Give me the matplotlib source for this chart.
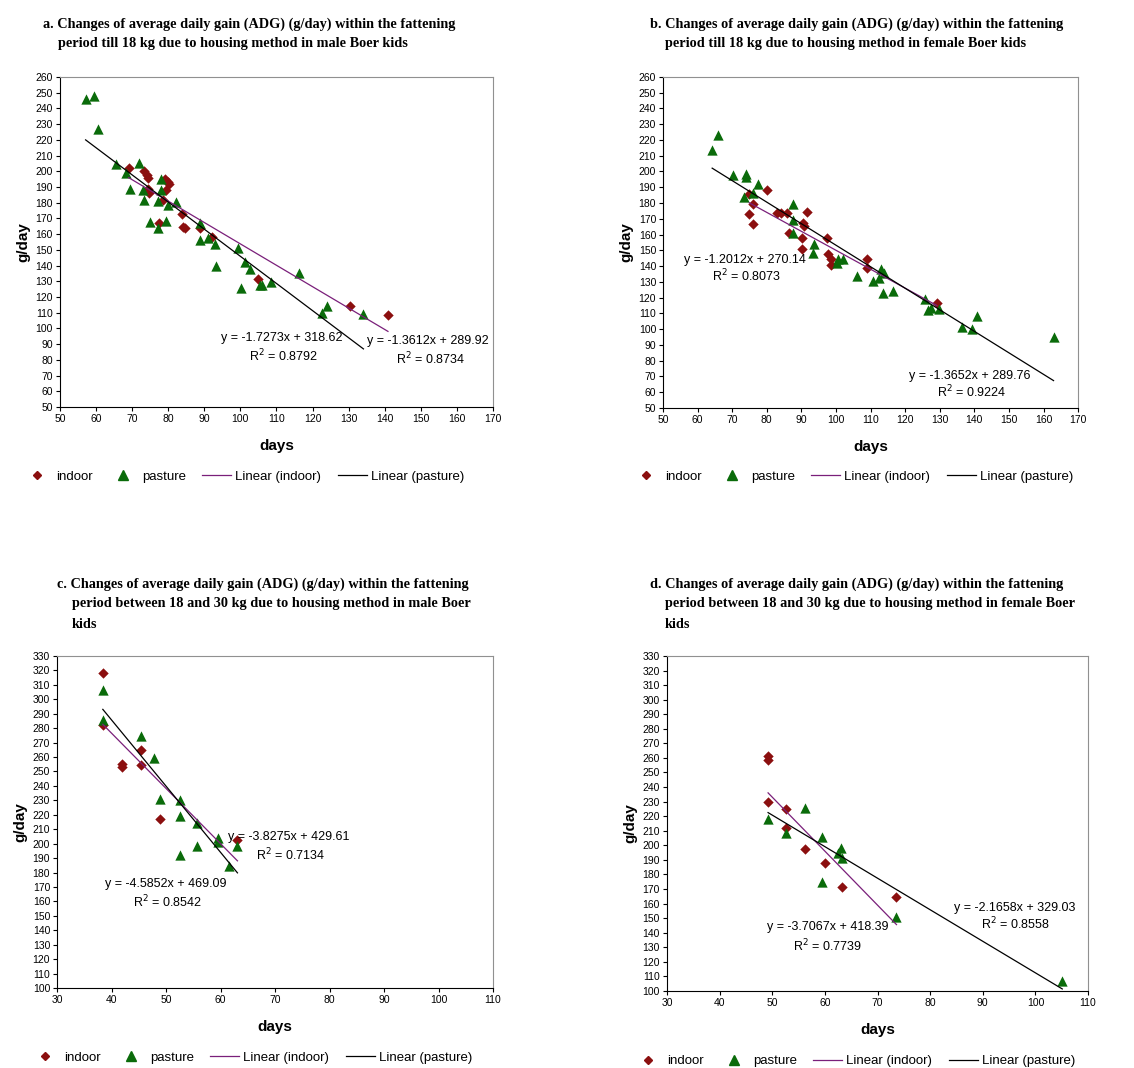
import numpy as np
import matplotlib
matplotlib.use("Agg")
import matplotlib.pyplot as plt
from matplotlib.lines import Line2D

plt.rcParams['font.family'] = ['Liberation Sans', 'DejaVu Sans']

# ---- panel a: male, till 18 kg ----
a_in_x = [69.0, 73.4, 74.0, 74.5, 74.3, 74.8, 77.4, 78.5, 79.1, 79.3, 79.9, 80.3,
          83.9, 84.0, 84.7, 88.8, 92.1, 105.0, 130.5, 140.9]
a_in_y = [202.4, 200.0, 197.5, 196.0, 188.5, 186.5, 167.3, 181.7, 195.4, 188.0, 193.3, 191.8,
          173.0, 164.7, 163.7, 163.7, 158.4, 131.5, 114.0, 108.4]
a_pa_x = [57.1, 59.3, 60.6, 65.4, 68.3, 69.4, 71.9, 73.0, 73.2, 75.0, 77.2, 77.2, 77.9,
          77.9, 79.3, 80.0, 82.1, 88.8, 88.9, 91.1, 93.0, 93.3, 99.4, 100.2, 101.2,
          102.7, 105.5, 105.9, 108.4, 116.2, 122.6, 124.0, 134.1]
a_pa_y = [246.2, 248.0, 227.0, 204.5, 199.0, 189.0, 205.4, 188.0, 181.7, 167.5, 181.0, 163.7, 195.0,
          188.0, 168.5, 178.5, 180.6, 167.3, 156.0, 157.8, 153.7, 139.8, 151.2, 126.0, 142.5,
          138.0, 127.5, 127.5, 129.4, 135.1, 110.0, 114.0, 109.0]

# ---- panel b: female, till 18 kg ----
b_in_x = [80.1, 74.9, 75.9, 74.9, 75.9, 83.0, 84.1, 85.7, 86.4, 91.5, 90.5, 90.8, 90.3,
          90.3, 97.3, 97.8, 98.5, 98.5, 108.9, 108.9, 129.2]
b_in_y = [188.2, 185.5, 179.2, 172.8, 166.7, 173.9, 173.5, 173.9, 161.2, 174.1, 167.6, 165.7, 157.6,
          150.9, 157.6, 147.5, 144.3, 140.8, 144.3, 138.6, 116.5]
b_pa_x = [64.2, 65.8, 70.1, 73.9, 74.1, 73.4, 75.9, 77.5, 87.5, 87.7, 87.7, 93.4, 93.7,
          100.2, 100.5, 101.9, 106.0, 110.6, 112.5, 113.0, 113.9, 113.7, 116.4, 125.8,
          126.5, 127.4, 129.8, 136.5, 139.4, 140.9, 162.9]
b_pa_y = [213.6, 222.9, 197.7, 198.2, 196.7, 183.6, 186.5, 192.0, 179.4, 169.2, 161.2, 148.3, 154.2,
          142.2, 144.4, 144.6, 133.8, 130.6, 132.3, 138.0, 135.5, 123.2, 123.9, 119.0,
          112.3, 113.3, 112.7, 101.3, 100.4, 108.4, 94.9]

# ---- panel c: male, 18-30 kg ----
c_in_x = [38.4, 38.4, 41.9, 41.9, 45.4, 45.4, 48.8, 63.1]
c_in_y = [318.0, 282.0, 255.5, 253.2, 264.7, 254.6, 217.0, 202.4]
c_pa_x = [38.4, 38.4, 45.4, 47.8, 48.8, 52.6, 52.6, 52.6, 55.6, 55.6, 59.6, 59.6, 63.1, 61.6]
c_pa_y = [306.5, 285.7, 274.9, 259.6, 230.7, 230.3, 219.3, 192.0, 214.0, 198.5, 203.6, 201.3,
          198.5, 184.7]

# ---- panel d: female, 18-30 kg ----
d_in_x = [49.2, 49.2, 49.2, 52.6, 52.6, 56.2, 60.0, 63.2, 73.6]
d_in_y = [261.2, 258.9, 229.9, 224.6, 212.0, 197.2, 187.6, 171.1, 164.3]
d_pa_x = [49.2, 52.6, 56.2, 59.5, 59.5, 63.0, 62.5, 63.2, 73.6, 105.1]
d_pa_y = [218.0, 208.6, 225.7, 205.4, 175.0, 197.9, 195.0, 191.0, 151.0, 107.1]

# trendline coefficients (slope, intercept, R2) as printed on the chart
a_in_fit = [-1.3612, 289.92, 0.8734]
a_pa_fit = [-1.7273, 318.62, 0.8792]
b_in_fit = [-1.2012, 270.14, 0.8073]
b_pa_fit = [-1.3652, 289.76, 0.9224]
c_in_fit = [-3.8275, 429.61, 0.7134]
c_pa_fit = [-4.5852, 469.09, 0.8542]
d_in_fit = [-3.7067, 418.39, 0.7739]
d_pa_fit = [-2.1658, 329.03, 0.8558]

titles = [
    ["a. Changes of average daily gain (ADG) (g/day) within the fattening",
     "period till 18 kg due to housing method in male Boer kids"],
    ["b. Changes of average daily gain (ADG) (g/day) within the fattening",
     "period till 18 kg due to housing method in female Boer kids"],
    ["c. Changes of average daily gain (ADG) (g/day) within the fattening",
     "period between 18 and 30 kg due to housing method in male Boer",
     "kids"],
    ["d. Changes of average daily gain (ADG) (g/day) within the fattening",
     "period between 18 and 30 kg due to housing method in female Boer",
     "kids"],
]

RED = '#8b0f0f'
GREEN = '#0a6b0a'
PURPLE = '#7a1f7a'

fig = plt.figure(figsize=(11.34, 10.68), dpi=100)

panels = [
    dict(rect=[0.0529, 0.6189, 0.3818, 0.309], xlim=(50, 170), ylim=(50, 260),
         ind=(a_in_x, a_in_y, a_in_fit), pas=(a_pa_x, a_pa_y, a_pa_fit),
         lab_in=((152.0, 91.7), (152.6, 80.5)), lab_pa=((111.5, 93.8), (111.9, 82.6)),
         title_xy=(43, 24), leg_x=11, leg_y=477),
    dict(rect=[0.5847, 0.618, 0.366, 0.31], xlim=(50, 170), ylim=(50, 260),
         ind=(b_in_x, b_in_y, b_in_fit), pas=(b_pa_x, b_pa_y, b_pa_fit),
         lab_in=((73.8, 143.9), (74.1, 133.8)), lab_pa=((138.6, 70.5), (139.3, 60.0)),
         title_xy=(650, 24), leg_x=620, leg_y=477),
    dict(rect=[0.0503, 0.0749, 0.3845, 0.3109], xlim=(30, 110), ylim=(100, 330),
         ind=(c_in_x, c_in_y, c_in_fit), pas=(c_pa_x, c_pa_y, c_pa_fit),
         lab_in=((72.6, 204.3), (72.9, 191.8)), lab_pa=((50.0, 172.2), (50.2, 159.5)),
         title_xy=(57, 584), leg_x=19, leg_y=1058),
    dict(rect=[0.5882, 0.0721, 0.3713, 0.3137], xlim=(30, 110), ylim=(100, 330),
         ind=(d_in_x, d_in_y, d_in_fit), pas=(d_pa_x, d_pa_y, d_pa_fit),
         lab_in=((60.5, 143.7), (60.5, 131.1)), lab_pa=((96.1, 157.2), (96.3, 145.7)),
         title_xy=(650, 584), leg_x=622, leg_y=1061),
]

W, H = 1134, 1068

for p, ttl in zip(panels, titles):
    ax = fig.add_axes(p['rect'])
    ix, iy, ifit = p['ind']
    px, py, pfit = p['pas']

    ax.scatter(ix, iy, marker='D', s=28, color=RED, zorder=3, linewidths=0)
    ax.scatter(px, py, marker='^', s=55, color=GREEN, zorder=3, linewidths=0)

    xi = np.array([min(ix), max(ix)])
    ax.plot(xi, ifit[0] * xi + ifit[1], color=PURPLE, lw=0.9, zorder=4)
    xp = np.array([min(px), max(px)])
    ax.plot(xp, pfit[0] * xp + pfit[1], color='black', lw=0.9, zorder=4)

    for fit, pos in ((ifit, p['lab_in']), (pfit, p['lab_pa'])):
        ax.text(pos[0][0], pos[0][1], "y = %.4fx + %.2f" % (fit[0], fit[1]),
                ha='center', va='center', fontsize=9, zorder=5)
        ax.text(pos[1][0], pos[1][1], "R$^2$ = %.4f" % fit[2],
                ha='center', va='center', fontsize=9, zorder=5)

    ax.set_xlim(*p['xlim'])
    ax.set_ylim(*p['ylim'])
    ax.set_xticks(np.arange(p['xlim'][0], p['xlim'][1] + 1, 10))
    ax.set_yticks(np.arange(p['ylim'][0], p['ylim'][1] + 1, 10))
    ax.tick_params(labelsize=7.5, length=3, width=0.8, direction='out', pad=2)
    for s in ('top', 'right'):
        ax.spines[s].set_color('#909090')
    for s in ('left', 'bottom'):
        ax.spines[s].set_color('black')
    ax.set_xlabel('days', fontsize=11, fontweight='bold', labelpad=11)
    ax.set_ylabel('g/day', fontsize=11, fontweight='bold', labelpad=4)

    # title lines, first line with the letter, rest indented
    tx, ty = p['title_xy']
    for k, line in enumerate(ttl):
        fig.text((tx + (0 if k == 0 else 15)) / W, 1 - (ty + 20 * k) / H, line,
                 family=['Liberation Serif', 'DejaVu Serif'], fontweight='bold',
                 fontsize=10.3, ha='left', va='center')

    handles = [
        Line2D([], [], marker='D', color=RED, ls='none', markersize=4.5),
        Line2D([], [], marker='^', color=GREEN, ls='none', markersize=6.5),
        Line2D([], [], color=PURPLE, lw=0.9),
        Line2D([], [], color='black', lw=0.9),
    ]
    labels = ['indoor', 'pasture', 'Linear (indoor)', 'Linear (pasture)']
    fig.legend(handles, labels, loc='center left',
               bbox_to_anchor=(p['leg_x'] / W, 1 - p['leg_y'] / H),
               ncol=4, frameon=False, fontsize=9.5, handlelength=2.2,
               handletextpad=0.3, columnspacing=1.25)

fig.savefig('out.png', dpi=100, facecolor='white')
